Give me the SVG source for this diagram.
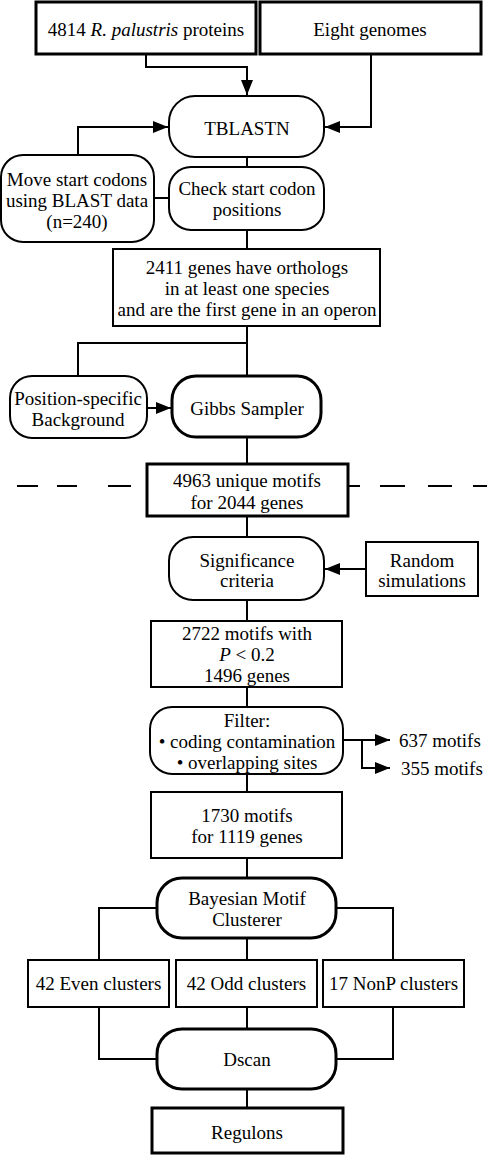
<svg xmlns="http://www.w3.org/2000/svg" width="487" height="1155" viewBox="0 0 487 1155" font-family="'Liberation Serif','Times New Roman',serif">
<defs>
<style>
text{font-family:"Liberation Serif","Times New Roman",serif;font-size:19px;fill:#000;text-anchor:middle}
.n{fill:#fff;stroke:#000;stroke-width:2}
.k{fill:#fff;stroke:#000;stroke-width:3}
.c{fill:none;stroke:#000;stroke-width:2}
.l{text-anchor:start}
</style>
<marker id="ah" viewBox="0 0 15 12" refX="15" refY="6" markerWidth="15" markerHeight="12" markerUnits="userSpaceOnUse" orient="auto">
<path d="M0,0 L15,6 L0,12 Z" fill="#000"/>
</marker>
</defs>
<rect width="487" height="1155" fill="#fff"/>
<g id="divider">
<path d="M17,486H38M57,486H77M108,486H131M348,486H360M380,486H405M428,486H452M473,486H487" stroke="#000" stroke-width="2" fill="none"/>
</g>
<g id="connectors">
<path class="c" d="M146,54V67H247V95" marker-end="url(#ah)"/>
<path class="c" d="M371,54V127H325" marker-end="url(#ah)"/>
<path class="c" d="M78,155V127H168" marker-end="url(#ah)"/>
<path class="c" d="M247,157V167"/>
<path class="c" d="M154,198H169"/>
<path class="c" d="M247,230V249"/>
<path class="c" d="M247,326V376M247,343H78V376"/>
<path class="c" d="M147,408H171" marker-end="url(#ah)"/>
<path class="c" d="M247,437V464"/>
<path class="c" d="M247,516V537"/>
<path class="c" d="M366,569H325" marker-end="url(#ah)"/>
<path class="c" d="M247,600V621"/>
<path class="c" d="M247,687V707"/>
<path class="c" d="M343,740H390" marker-end="url(#ah)"/>
<path class="c" d="M362,740V768H390" marker-end="url(#ah)"/>
<path class="c" d="M247,774V792"/>
<path class="c" d="M247,858V878"/>
<path class="c" d="M157,908H99V960M336,908H393V960M247,938V960"/>
<path class="c" d="M99,1007V1059H157M393,1007V1059H336M247,1007V1029"/>
<path class="c" d="M247,1089V1108"/>
</g>
<g id="proteins"><rect class="k" x="36" y="2" width="220" height="52"/><text x="146" y="35.5">4814 <tspan font-style="italic">R. palustris</tspan> proteins</text></g>
<g id="genomes"><rect class="k" x="260" y="2" width="221" height="52"/><text x="370" y="35.5">Eight genomes</text></g>
<g id="tblastn"><rect class="n" x="169" y="96" width="155" height="61" rx="26"/><text x="247" y="134.5">TBLASTN</text></g>
<g id="move"><rect class="n" x="1" y="155" width="153" height="87" rx="22"/><text x="77" y="185.5">Move start codons</text><text x="77" y="206.5">using BLAST data</text><text x="77" y="228">(n=240)</text></g>
<g id="check"><rect class="n" x="169" y="167" width="155" height="63" rx="22"/><text x="247" y="194.5">Check start codon</text><text x="247" y="215.5">positions</text></g>
<g id="orthologs"><rect class="n" x="113" y="249" width="267" height="77" stroke-width="2.5"/><text x="247" y="273.5">2411 genes have orthologs</text><text x="247" y="294.5">in at least one species</text><text x="247" y="315.5">and are the first gene in an operon</text></g>
<g id="background"><rect class="n" x="10" y="376" width="137" height="62" rx="22"/><text x="78" y="404.5">Position-specific</text><text x="78" y="425.5">Background</text></g>
<g id="gibbs"><rect class="k" x="172" y="376" width="149" height="61" rx="24"/><text x="247" y="414.5">Gibbs Sampler</text></g>
<g id="unique"><rect class="k" x="147" y="464" width="201" height="52"/><text x="247" y="486.5">4963 unique motifs</text><text x="247" y="508.5">for 2044 genes</text></g>
<g id="significance"><rect class="n" x="169" y="537" width="155" height="63" rx="24"/><text x="247" y="566.5">Significance</text><text x="247" y="587">criteria</text></g>
<g id="random"><rect class="n" x="366" y="542" width="112" height="54"/><text x="422" y="566.5">Random</text><text x="422" y="587">simulations</text></g>
<g id="m2722"><rect class="n" x="151" y="621" width="191" height="66"/><text x="247" y="639.5">2722 motifs with</text><text x="247" y="660.5"><tspan font-style="italic">P</tspan> &lt; 0.2</text><text x="247" y="682">1496 genes</text></g>
<g id="filter"><rect class="n" x="150" y="707" width="193" height="67" rx="22"/><text x="247" y="726.5">Filter:</text><text x="247" y="747.5">• coding contamination</text><text x="247" y="769">• overlapping sites</text></g>
<g id="m637"><text class="l" x="399" y="746.5">637 motifs</text></g>
<g id="m355"><text class="l" x="401" y="774.5">355 motifs</text></g>
<g id="m1730"><rect class="n" x="151" y="792" width="191" height="66"/><text x="247" y="821.5">1730 motifs</text><text x="247" y="842.5">for 1119 genes</text></g>
<g id="bayesian"><rect class="k" x="157" y="878" width="179" height="60" rx="25"/><text x="247" y="904.5">Bayesian Motif</text><text x="247" y="925.5">Clusterer</text></g>
<g id="even"><rect class="n" x="28" y="960" width="141" height="47"/><text x="98.5" y="989.5">42 Even clusters</text></g>
<g id="odd"><rect class="n" x="176" y="960" width="141" height="47"/><text x="246.5" y="989.5">42 Odd clusters</text></g>
<g id="nonp"><rect class="n" x="323" y="960" width="141" height="47"/><text x="393.5" y="989.5">17 NonP clusters</text></g>
<g id="dscan"><rect class="k" x="157" y="1029" width="179" height="60" rx="25"/><text x="247" y="1065.5">Dscan</text></g>
<g id="regulons"><rect class="k" x="152" y="1108" width="191" height="45"/><text x="247" y="1138.5">Regulons</text></g>
</svg>
